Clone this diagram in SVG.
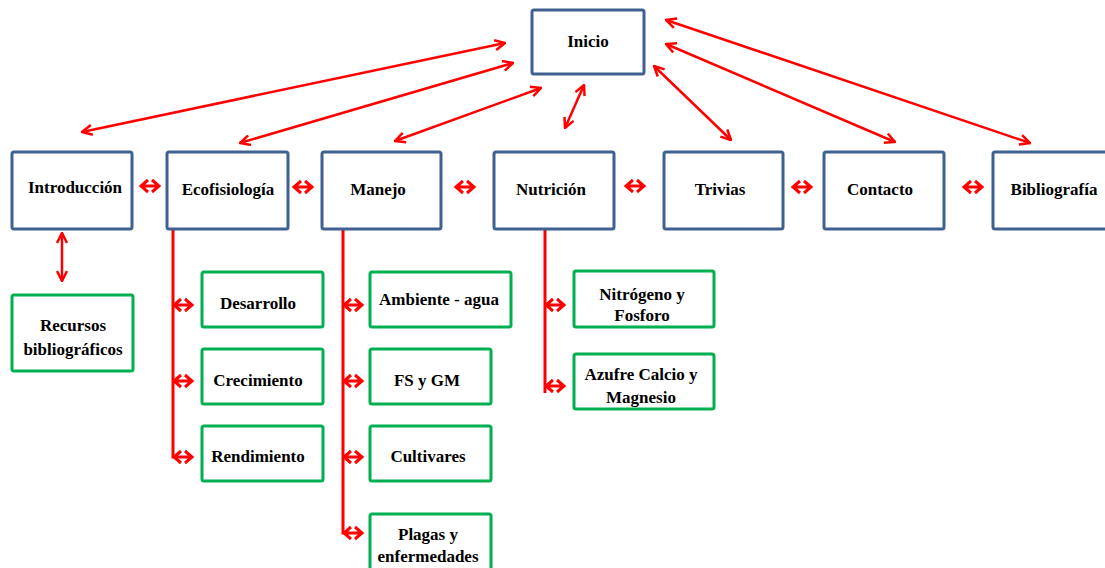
<svg xmlns="http://www.w3.org/2000/svg" width="1105" height="568" viewBox="0 0 1105 568">
<style>
.b{fill:#fff;stroke:#3F618F;stroke-width:3}
.g{fill:#fff;stroke:#00B050;stroke-width:3}
.t{font-family:"Liberation Serif","Times New Roman",serif;font-weight:bold;font-size:17px;fill:#000;text-anchor:middle}
.c{stroke:#FF0000;stroke-width:2.5;fill:none}
.s{stroke:#FF0000;stroke-width:3;fill:none}
</style>
<defs>
<marker id="ah" viewBox="0 0 12 12" refX="11" refY="6" markerWidth="12" markerHeight="12" markerUnits="userSpaceOnUse" orient="auto-start-reverse">
<path d="M1,1 L11,6 L1,11" fill="none" stroke="#FF0000" stroke-width="2.5"/>
</marker>
<g id="dbl">
<path d="M-9,0 L9,0 M-2,-6 L-9,0 L-2,6 M2,-6 L9,0 L2,6" fill="none" stroke="#FF0000" stroke-width="3"/>
</g>
</defs>
<g id="connectors">
<line class="c" x1="82" y1="132" x2="505" y2="43" marker-start="url(#ah)" marker-end="url(#ah)"/>
<line class="c" x1="240" y1="143" x2="513" y2="63" marker-start="url(#ah)" marker-end="url(#ah)"/>
<line class="c" x1="395" y1="141" x2="541" y2="88" marker-start="url(#ah)" marker-end="url(#ah)"/>
<line class="c" x1="565" y1="128" x2="584" y2="85" marker-start="url(#ah)" marker-end="url(#ah)"/>
<line class="c" x1="654" y1="66" x2="731" y2="140" marker-start="url(#ah)" marker-end="url(#ah)"/>
<line class="c" x1="666" y1="44" x2="895" y2="142" marker-start="url(#ah)" marker-end="url(#ah)"/>
<line class="c" x1="666" y1="20" x2="1030" y2="143" marker-start="url(#ah)" marker-end="url(#ah)"/>
<line class="c" x1="62" y1="233" x2="62" y2="281" marker-start="url(#ah)" marker-end="url(#ah)"/>
<use href="#dbl" x="150" y="186"/>
<use href="#dbl" x="303" y="187"/>
<use href="#dbl" x="465" y="187"/>
<use href="#dbl" x="635" y="186"/>
<use href="#dbl" x="802" y="187"/>
<use href="#dbl" x="973" y="187"/>
<path class="s" d="M173,230 L173,457 L176,457"/>
<use href="#dbl" x="183" y="305"/>
<use href="#dbl" x="183" y="381"/>
<use href="#dbl" x="183" y="457"/>
<path class="s" d="M343,230 L343,533 L346,533"/>
<use href="#dbl" x="353" y="305"/>
<use href="#dbl" x="353" y="381"/>
<use href="#dbl" x="353" y="457"/>
<use href="#dbl" x="353" y="533"/>
<path class="s" d="M545,230 L545,393"/>
<use href="#dbl" x="555" y="305"/>
<use href="#dbl" x="555" y="386"/>
</g>
<g id="inicio"><rect class="b" x="532" y="10" width="112" height="64" rx="2"/><text class="t" x="588" y="47">Inicio</text></g>
<g id="introduccion"><rect class="b" x="12" y="152" width="120" height="77" rx="2"/><text class="t" x="75" y="193">Introducción</text></g>
<g id="ecofisiologia"><rect class="b" x="167" y="152" width="121" height="77" rx="2"/><text class="t" x="228" y="195">Ecofisiología</text></g>
<g id="manejo"><rect class="b" x="322" y="152" width="119" height="77" rx="2"/><text class="t" x="378" y="195">Manejo</text></g>
<g id="nutricion"><rect class="b" x="494" y="152" width="120" height="77" rx="2"/><text class="t" x="551" y="195">Nutrición</text></g>
<g id="trivias"><rect class="b" x="664" y="152" width="119" height="77" rx="2"/><text class="t" x="720" y="195">Trivias</text></g>
<g id="contacto"><rect class="b" x="824" y="152" width="120" height="77" rx="2"/><text class="t" x="880" y="195">Contacto</text></g>
<g id="bibliografia"><rect class="b" x="993" y="152" width="120" height="77" rx="2"/><text class="t" x="1054" y="195">Bibliografía</text></g>
<g id="recursos"><rect class="g" x="12" y="295" width="121" height="76" rx="2"/><text class="t" x="73" y="331">Recursos</text><text class="t" x="73" y="355">bibliográficos</text></g>
<g id="desarrollo"><rect class="g" x="202" y="272" width="121" height="55" rx="2"/><text class="t" x="258" y="309">Desarrollo</text></g>
<g id="crecimiento"><rect class="g" x="202" y="349" width="121" height="55" rx="2"/><text class="t" x="258" y="386">Crecimiento</text></g>
<g id="rendimiento"><rect class="g" x="202" y="426" width="121" height="55" rx="2"/><text class="t" x="258" y="462">Rendimiento</text></g>
<g id="ambiente"><rect class="g" x="370" y="272" width="141" height="55" rx="2"/><text class="t" x="439" y="305">Ambiente - agua</text></g>
<g id="fsgm"><rect class="g" x="370" y="349" width="121" height="55" rx="2"/><text class="t" x="427" y="386">FS y GM</text></g>
<g id="cultivares"><rect class="g" x="370" y="426" width="121" height="55" rx="2"/><text class="t" x="428" y="462">Cultivares</text></g>
<g id="plagas"><rect class="g" x="370" y="514" width="121" height="60" rx="2"/><text class="t" x="428" y="540">Plagas y</text><text class="t" x="428" y="562">enfermedades</text></g>
<g id="nitrogeno"><rect class="g" x="574" y="271" width="140" height="56" rx="2"/><text class="t" x="642" y="300">Nitrógeno y</text><text class="t" x="642" y="321">Fosforo</text></g>
<g id="azufre"><rect class="g" x="574" y="354" width="140" height="55" rx="2"/><text class="t" x="641" y="380">Azufre Calcio y</text><text class="t" x="641" y="403">Magnesio</text></g>
</svg>
